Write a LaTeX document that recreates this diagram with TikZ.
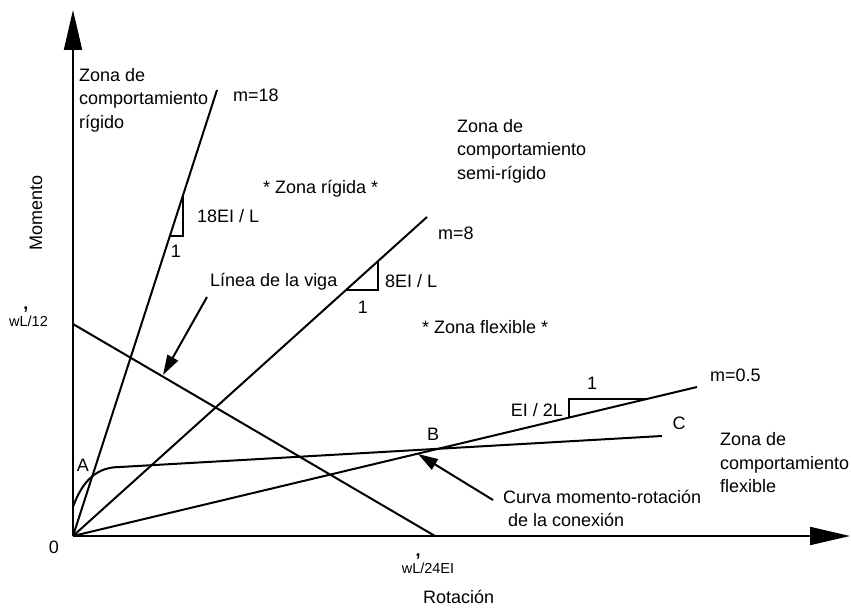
\documentclass[tikz,border=0pt]{standalone}
\usepackage{fontspec}
\setmainfont{Liberation Sans}
\usetikzlibrary{calc,arrows.meta}
\tikzset{
	lbl/.style={font=\fontsize{18}{23.5}\selectfont, inner sep=0pt},
	sml/.style={font=\fontsize{14.5}{16}\selectfont, inner sep=0pt},
	axis/.style={line width=2pt, -{Triangle[length=40pt,width=18pt]}},
	pointer/.style={line width=2pt, -{Triangle[length=20pt,width=12pt]}},
	curve/.style={line width=2pt},
	slope/.style={line width=1.8pt},
}

\begin{document}
\begin{tikzpicture}[x=10pt, y=10pt]
		%%%%% START %%%%%
		\useasboundingbox (0, 0) rectangle (85.1, 60.8);
		
		\coordinate (O) at (7.3, 7.2);
		\coordinate (m18) at (21.7, 51.8);
		\coordinate (m8) at (42.7, 39.1);
		\coordinate (m05) at (69.7, 22.1);
		
		% ejes
		\draw[axis] (O) -- (7.3, 59.8);
		\draw[axis] (O) -- (85.0, 7.2);
		
		% rectas de rigidez
		\draw[curve] (O) -- (m18);
		\draw[curve] (O) -- (m8);
		\draw[curve] (O) -- (m05);
		
		\draw[slope] (18.3, 41.3) -- (18.3, 37.2) -- (17.0, 37.2);
		\draw[slope] (37.8, 34.7) -- (37.8, 31.8) -- (34.6, 31.8);
		\draw[slope] (56.9, 19.0) -- (56.9, 20.9) -- (64.7, 20.9);
		
		% linea de la viga y curva de la conexion
		\draw[curve] (7.3, 28.4) -- (43.5, 7.2);
		\draw[curve] (7.3, 10.1) .. controls (8.3, 12.9) and (9.8, 14.1) .. (12.0, 14.1) -- (66.2, 17.2);
		
		\draw[pointer] (20.7, 31.1) -- (16.3, 23.3);
		\draw[pointer] (49.3, 10.8) -- (41.8, 15.4);
		
		% textos
		\node[lbl, anchor=west] at (23.3, 51.3) {m=18};
		\node[lbl, anchor=west] at (19.7, 39.2) {18EI / L};
		\node[lbl] at (17.6, 35.7) {1};
		\node[lbl, anchor=west] at (43.8, 37.5) {m=8};
		\node[lbl, anchor=west] at (38.5, 32.7) {8EI / L};
		\node[lbl] at (36.3, 30.1) {1};
		\node[lbl, anchor=west] at (71.0, 23.3) {m=0.5};
		\node[lbl, anchor=east] at (56.3, 19.8) {EI / 2L};
		\node[lbl] at (59.2, 22.5) {1};
		
		\node[lbl] at (8.3, 14.3) {A};
		\node[lbl] at (43.3, 17.4) {B};
		\node[lbl] at (67.9, 18.5) {C};
		
		\node[lbl, anchor=west, align=left] at (7.9, 50.8) {Zona de\\comportamiento\\rígido};
		\node[lbl, anchor=west, align=left] at (45.7, 45.7) {Zona de\\comportamiento\\semi-rígido};
		\node[lbl, anchor=west, align=left] at (72.0, 14.5) {Zona de\\comportamiento\\flexible};
		\node[lbl, anchor=west] at (26.3, 41.9) {* Zona rígida *};
		\node[lbl, anchor=west] at (42.2, 28.1) {* Zona flexible *};
		\node[lbl, anchor=west] at (21.0, 32.6) {Línea de la viga};
		\node[lbl, anchor=west, align=left] at (50.3, 9.95) {Curva momento-rotación\\\ de la conexión};
		
		\node[lbl, rotate=90] at (3.6, 39.5) {Momento};
		\node[lbl, anchor=west] at (42.3, 1.1) {Rotación};
		\node[lbl] at (5.4, 6.1) {0};
		
		\node[sml] at (2.85, 28.7) {wL/12};
		\node[lbl, anchor=base, font=\fontsize{18}{20}\bfseries] at (2.6, 29.85) {,};
		\node[sml] at (42.8, 4.0) {wL/24EI};
		\node[lbl, anchor=base, font=\fontsize{18}{20}\bfseries] at (41.8, 5.2) {,};
		
		%%%%% END %%%%%
	\end{tikzpicture}
\end{document}
